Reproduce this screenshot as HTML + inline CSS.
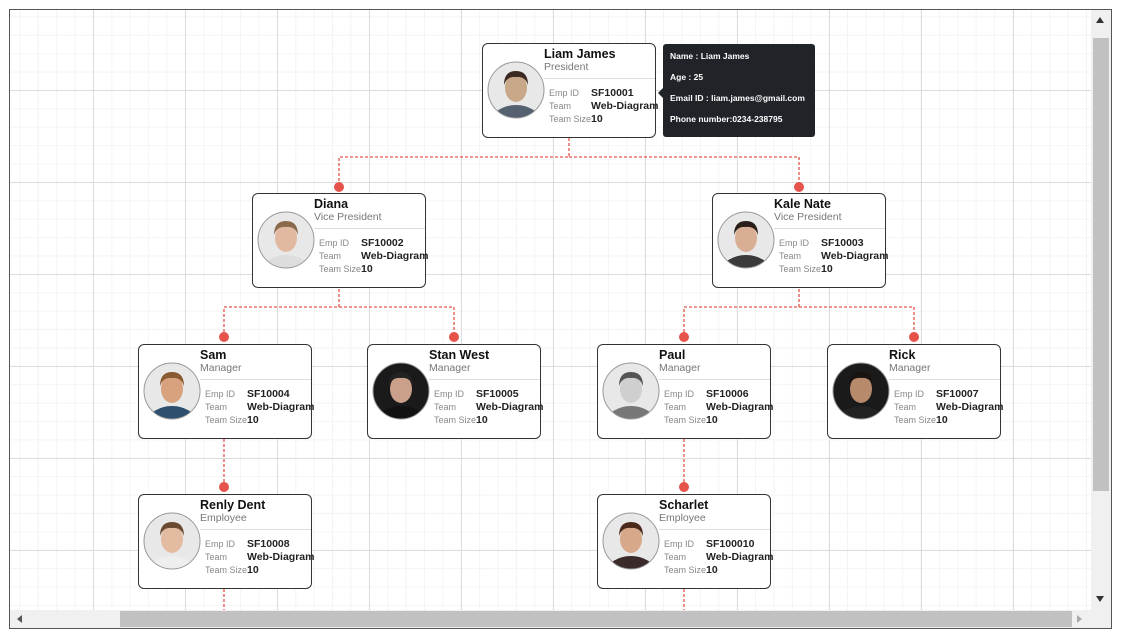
<!DOCTYPE html>
<html><head><meta charset="utf-8"><style>
*{margin:0;padding:0;box-sizing:border-box}
body{width:1132px;height:635px;background:#fff;position:relative;overflow:hidden;font-family:"Liberation Sans",sans-serif}
#frame{position:absolute;left:9px;top:9px;width:1103px;height:620px;border:1px solid #555;overflow:hidden;
background-color:#fff;
background-image:linear-gradient(#dcdcdc 1px,transparent 1px),linear-gradient(90deg,#dcdcdc 1px,transparent 1px),linear-gradient(#f4f4f4 1px,transparent 1px),linear-gradient(90deg,#f4f4f4 1px,transparent 1px);
background-size:92px 92px,92px 92px,18.4px 18.4px,18.4px 18.4px;
background-position:-9px -12px,-9px -12px,-9px -12px,-9px -12px}
.n{position:absolute;width:174px;height:95px;border:1.5px solid #333;border-radius:6px;background:#fff}
.n .nm{position:absolute;left:61px;top:3px;font-size:12.5px;font-weight:bold;color:#111}
.n .ti{position:absolute;left:61px;top:17px;font-size:10.5px;color:#777}
.n .ln{position:absolute;left:61px;right:0;top:34px;border-top:1px solid #ddd}
.n .l{position:absolute;left:66px;font-size:9px;color:#888;white-space:nowrap}
.n .v{position:absolute;left:108px;font-size:10.5px;font-weight:bold;color:#222;white-space:nowrap}
.n svg{position:absolute;left:4px;top:17px}
#tip{position:absolute;left:663px;top:44px;width:152px;height:93px;background:#202328;border-radius:3px;color:#fff;font-size:8.5px;font-weight:bold;padding:7px 7px;white-space:nowrap}
#tip div{height:21px}
#tip:before{content:"";position:absolute;left:-5px;top:44px;border:5px solid transparent;border-left:0;border-right-color:#202328}
</style></head><body>
<div id="frame"></div>
<svg style="position:absolute;left:0;top:0" width="1132" height="635">
<g stroke="#e5534b" stroke-width="1.3" stroke-dasharray="3,2" fill="none">
<path d="M569 138V157H339V187M569 157H799V187"/>
<path d="M339 289V307H224V337M339 307H454V337"/>
<path d="M799 289V307H684V337M799 307H914V337"/>
<path d="M224 439V487M684 439V487M224 589V611M684 589V611"/>
</g>
<g fill="#e5534b"><circle cx="339" cy="187" r="5"/><circle cx="799" cy="187" r="5"/><circle cx="224" cy="337" r="5"/><circle cx="454" cy="337" r="5"/><circle cx="684" cy="337" r="5"/><circle cx="914" cy="337" r="5"/><circle cx="224" cy="487" r="5"/><circle cx="684" cy="487" r="5"/></g>
</svg>
<div id="nodes"></div>
<div id="tip"><div>Name : Liam James</div><div>Age : 25</div><div>Email ID : liam.james@gmail.com</div><div>Phone number:0234-238795</div></div>
<div style="position:absolute;left:1091px;top:10px;width:20px;height:600px;background:#f0f0f0"></div>
<div style="position:absolute;left:1093px;top:38px;width:16px;height:453px;background:#c1c1c1"></div>
<div style="position:absolute;left:1096px;top:17px;border:4px solid transparent;border-top:0;border-bottom:6px solid #333"></div>
<div style="position:absolute;left:1096px;top:596px;border:4px solid transparent;border-bottom:0;border-top:6px solid #333"></div>
<div style="position:absolute;left:10px;top:610px;width:1101px;height:18px;background:#f0f0f0"></div>
<div style="position:absolute;left:120px;top:611px;width:952px;height:16px;background:#c1c1c1"></div>
<div style="position:absolute;left:17px;top:615px;border:4px solid transparent;border-left:0;border-right:5px solid #555"></div>
<div style="position:absolute;left:1077px;top:615px;border:4px solid transparent;border-right:0;border-left:5px solid #aaa"></div>
<script>
var N=[["Liam James","President","SF10001",482,43,"#c9a88a","#3a2a20","#556070"],
["Diana","Vice President","SF10002",252,193,"#e0b9a0","#8a6a4a","#ddd"],
["Kale Nate","Vice President","SF10003",712,193,"#d9ae94","#2a1e18","#3a3a3a"],
["Sam","Manager","SF10004",138,344,"#d8a27e","#8a5a30","#2f4f6f"],
["Stan West","Manager","SF10005",367,344,"#caa08a","#222","#111"],
["Paul","Manager","SF10006",597,344,"#cfcfcf","#555","#777"],
["Rick","Manager","SF10007",827,344,"#b88a6c","#1a1410","#222"],
["Renly Dent","Employee","SF10008",138,494,"#e3bba0","#6a4a30","#eee"],
["Scharlet","Employee","SF100010",597,494,"#d7a88a","#4a2a1a","#3a2a2a"]];
var h="";
N.forEach(function(d){
h+='<div class="n" style="left:'+d[3]+'px;top:'+d[4]+'px">'+
'<svg width="58" height="58"><defs><clipPath id="c'+d[2]+'"><circle cx="29" cy="29" r="28"/></clipPath></defs>'+
'<circle cx="29" cy="29" r="28" fill="'+(d[7]=="#111"||d[7]=="#222"?"#1a1a1a":"#e8e8e8")+'"/>'+
'<g clip-path="url(#c'+d[2]+')"><ellipse cx="29" cy="60" rx="24" ry="16" fill="'+d[7]+'"/>'+
'<ellipse cx="29" cy="27" rx="11" ry="14" fill="'+d[5]+'"/>'+
'<path d="M17 24Q17 10 29 10Q41 10 41 24Q38 15 29 16Q20 15 17 24Z" fill="'+d[6]+'"/></g>'+
'<circle cx="29" cy="29" r="28" fill="none" stroke="#999" stroke-width="1"/></svg>'+
'<div class="nm">'+d[0]+'</div><div class="ti">'+d[1]+'</div><div class="ln"></div>'+
'<div class="l" style="top:44px">Emp ID</div><div class="l" style="top:57px">Team</div><div class="l" style="top:70px">Team Size</div>'+
'<div class="v" style="top:43px">'+d[2]+'</div><div class="v" style="top:56px">Web-Diagram</div><div class="v" style="top:69px">10</div></div>';
});
document.getElementById("nodes").innerHTML=h;
</script>
</body></html>
